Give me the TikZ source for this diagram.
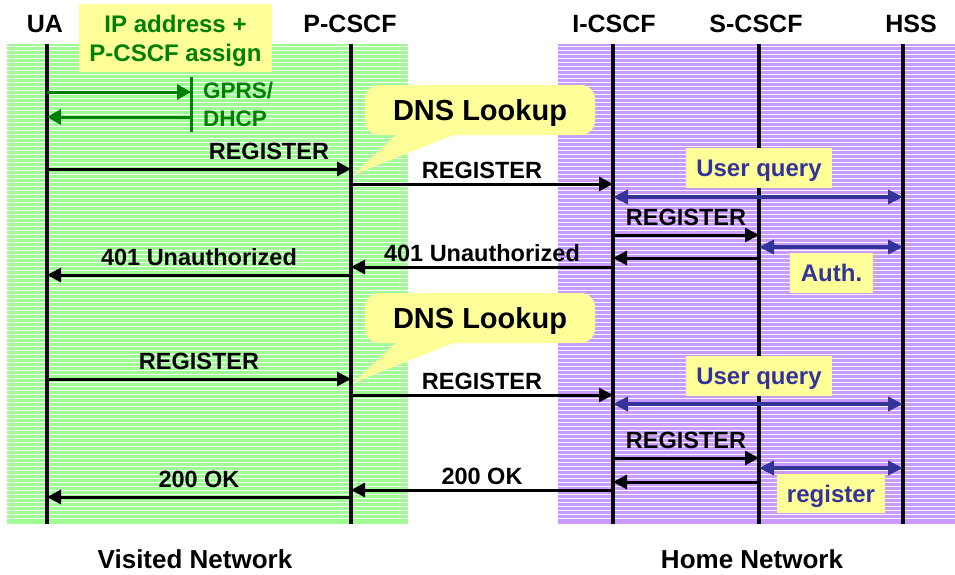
\documentclass[tikz,border=0pt]{standalone}
\usepackage{fontspec}
\setmainfont{Liberation Sans}
\usetikzlibrary{arrows.meta,positioning}
\definecolor{visgreen}{RGB}{160,250,150}
\definecolor{homepurple}{RGB}{204,153,255}
\definecolor{notecolor}{RGB}{255,255,153}
\definecolor{querycolor}{RGB}{51,51,153}
\definecolor{gprscolor}{RGB}{0,128,0}

\begin{document}
\begin{tikzpicture}[x=1pt,y=-1pt,
    font=\bfseries\fontsize{23.5}{28}\selectfont,
    life/.style={line width=3.5pt},
    head/.style={font=\bfseries\fontsize{25}{30}\selectfont},
    msg/.style={line width=3pt,-{Triangle[length=14pt,width=14pt]}},
    gprsmsg/.style={gprscolor,line width=3pt,-{Triangle[length=14pt,width=15pt]}},
    query/.style={querycolor,line width=3.5pt,
      {Triangle[length=15pt,width=14pt]}-{Triangle[length=15pt,width=14pt]}},
    note/.style={fill=notecolor,inner sep=0pt,text depth=0pt,
      font=\bfseries\fontsize{24}{29}\selectfont},
    lbl/.style={above=6pt,inner sep=2pt},
    lbllow/.style={above=2pt,inner sep=2pt}]
  \useasboundingbox (0,0) rectangle (955,574);

  % striped network backgrounds
  \fill[visgreen] (7,44) rectangle (408,524);
  \fill[homepurple] (558,44) rectangle (955,524);
  \foreach \k in {0,...,118}
    \draw[white,line width=1pt] (7,{46.7+4*\k}) -- (408,{46.7+4*\k})
      (558,{46.7+4*\k}) -- (955,{46.7+4*\k});

  \node[head] (hua) at (45,24) {UA};
  \node[head] (hpcscf) at (350,24) {P-CSCF};
  \node[head] (hicscf) at (614,24) {I-CSCF};
  \node[head] (hscscf) at (756,24) {S-CSCF};
  \node[head] (hhss) at (911,24) {HSS};

  \foreach \n/\x in {ua/47,pcscf/351,icscf/613,scscf/759,hss/903} {
    \coordinate (\n) at (\x,44);
    \coordinate (\n-end) at (\x,524);
    \draw[life] (\n) -- (\n-end);
  }

  \node[note,text=gprscolor,align=center,minimum width=193,minimum height=68]
    (ipassign) at (175.5,38) {IP address +\\P-CSCF assign};

  % GPRS / DHCP
  \coordinate (gprs-top) at (191,77);
  \coordinate (gprs-bot) at (191,132);
  \draw[gprscolor,line width=3pt] (gprs-top) -- (gprs-bot);
  \draw[gprsmsg] (ua |- 0,92) -- (gprs-top |- 0,92);
  \draw[gprsmsg] (gprs-top |- 0,117) -- (ua |- 0,117);
  \node[gprscolor,anchor=west,align=left,inner sep=2pt,
    font=\bfseries\fontsize{22.5}{28}\selectfont] (gprs) at (201,104) {GPRS/\\DHCP};

  % first registration
  \draw[msg] (ua |- 0,169) -- (pcscf |- 0,169) node[lbl,pos=.73]{REGISTER};
  \draw[msg] (pcscf |- 0,184) -- (icscf |- 0,184) node[lbllow,midway]{REGISTER};
  \node[note,text=querycolor,minimum width=146,minimum height=40] (uq1) at (759,168) {User query};
  \draw[query] (icscf |- 0,197) -- (hss |- 0,197);
  \draw[msg] (icscf |- 0,235) -- (scscf |- 0,235) node[lbl,midway]{REGISTER};
  \draw[query] (scscf |- 0,247) -- (hss |- 0,247);
  \node[note,text=querycolor,minimum width=83,minimum height=40] (auth) at (831.5,273) {Auth.};
  \draw[msg] (scscf |- 0,258) -- (icscf |- 0,258);
  \draw[msg] (icscf |- 0,267) -- (pcscf |- 0,267) node[lbllow,midway]{401 Unauthorized};
  \draw[msg] (pcscf |- 0,275) -- (ua |- 0,275) node[lbl,midway]{401 Unauthorized};

  % second registration
  \draw[msg] (ua |- 0,379) -- (pcscf |- 0,379) node[lbl,midway]{REGISTER};
  \draw[msg] (pcscf |- 0,395) -- (icscf |- 0,395) node[lbllow,midway]{REGISTER};
  \node[note,text=querycolor,minimum width=146,minimum height=40] (uq2) at (759,376) {User query};
  \draw[query] (icscf |- 0,404) -- (hss |- 0,404);
  \draw[msg] (icscf |- 0,458) -- (scscf |- 0,458) node[lbl,midway]{REGISTER};
  \draw[query] (scscf |- 0,468) -- (hss |- 0,468);
  \node[note,text=querycolor,minimum width=108,minimum height=39] (reg) at (831,493.5) {register};
  \draw[msg] (scscf |- 0,482) -- (icscf |- 0,482);
  \draw[msg] (icscf |- 0,490) -- (pcscf |- 0,490) node[lbllow,midway]{200 OK};
  \draw[msg] (pcscf |- 0,497) -- (ua |- 0,497) node[lbl,midway]{200 OK};

  % DNS callouts
  \foreach \d/\t in {dns1/175,dns2/383} {
    \node[note,rounded corners=14pt,minimum width=230,minimum height=50,
      font=\bfseries\fontsize{29}{34}\selectfont] (\d) at (480,{\t-65}) {DNS Lookup};
    \fill[notecolor] ([shift={(33pt,2pt)}]\d.south west) -- ([xshift=2pt]pcscf |- 0,\t)
      -- ([shift={(93pt,2pt)}]\d.south west) -- cycle;
  }

  \node[font=\bfseries\fontsize{26}{30}\selectfont] (visited) at (195,559) {Visited Network};
  \node[font=\bfseries\fontsize{26}{30}\selectfont] (home) at (752,559) {Home Network};
\end{tikzpicture}
\end{document}
